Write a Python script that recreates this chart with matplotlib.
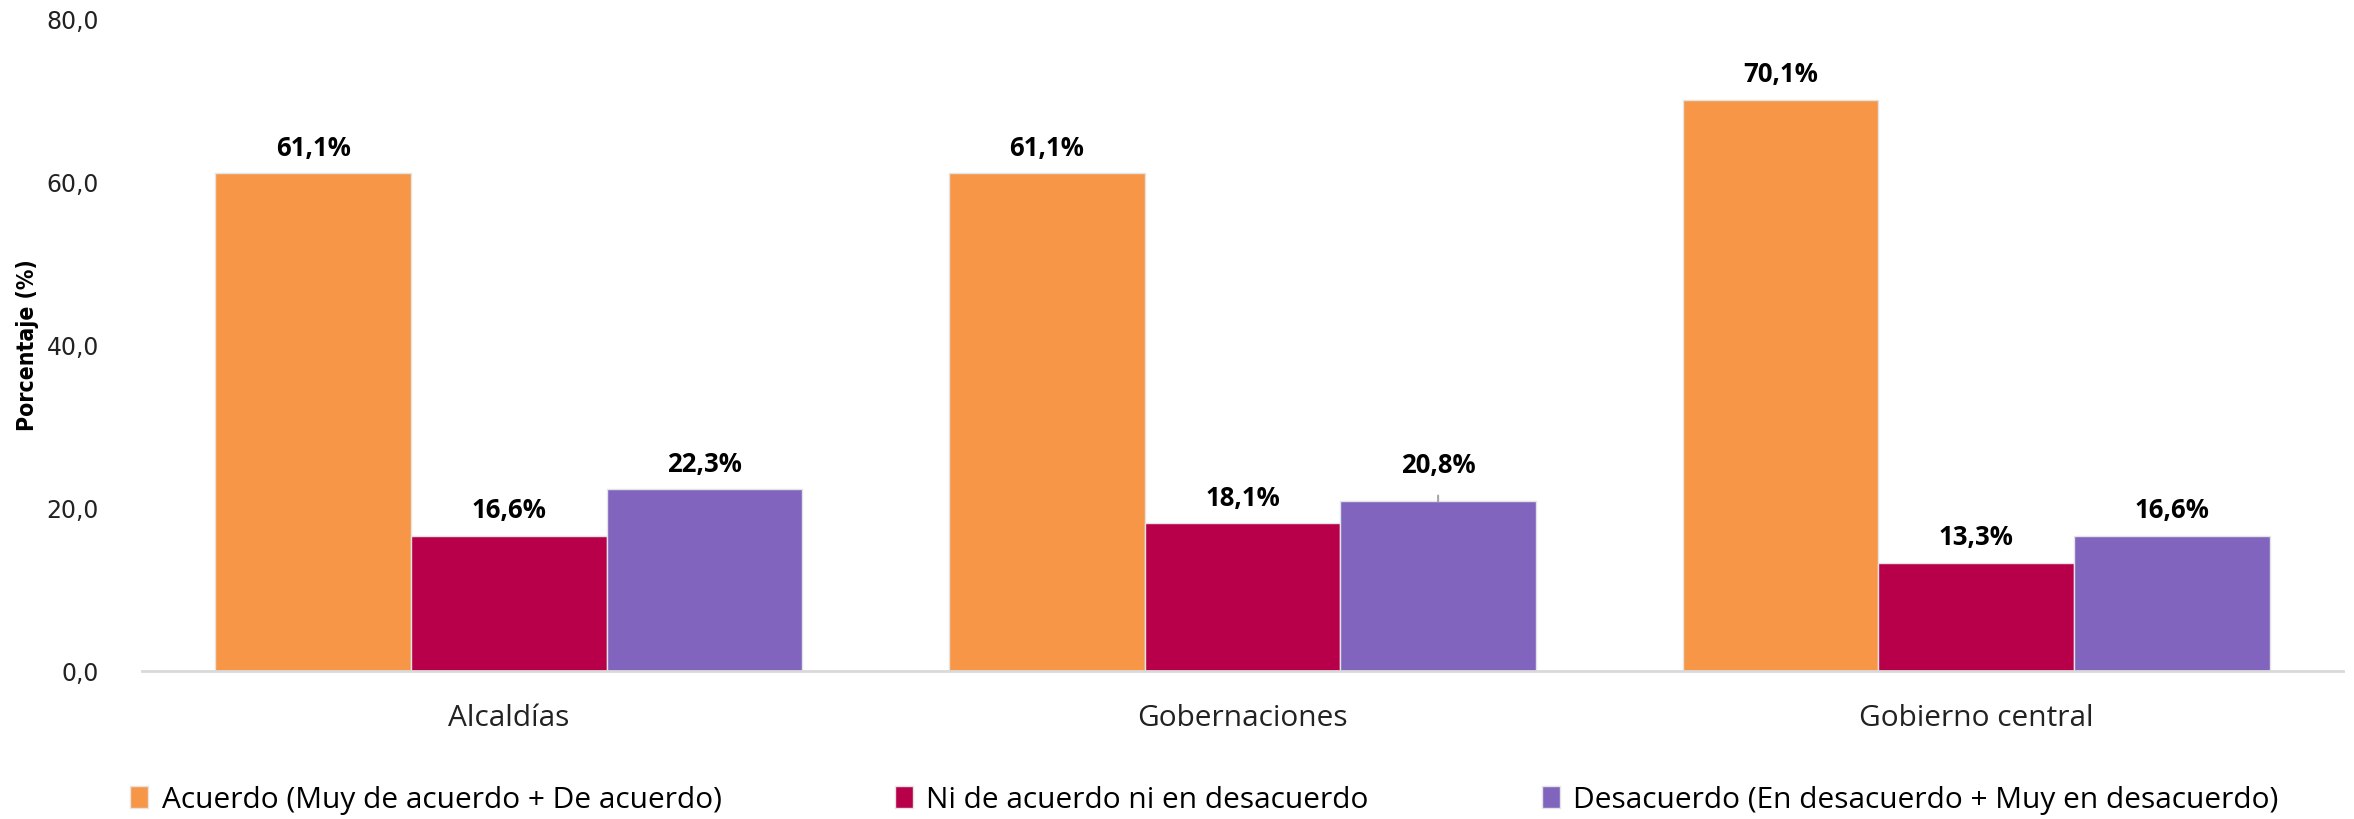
import matplotlib
matplotlib.use("Agg")
import matplotlib.pyplot as plt
import numpy as np

categories = ["Alcaldías", "Gobernaciones", "Gobierno central"]
series_names = ["Acuerdo (Muy de acuerdo + De acuerdo)",
                "Ni de acuerdo ni en desacuerdo",
                "Desacuerdo (En desacuerdo + Muy en desacuerdo)"]
acuerdo = [61.1, 61.1, 70.1]
neutral = [16.6, 18.1, 13.3]
desacuerdo = [22.3, 20.8, 16.6]
yticks = [0, 20, 40, 60, 80]

colors = ["#F79646", "#B8004A", "#8064BD"]

fig = plt.figure(figsize=(23.54, 8.19), dpi=100)
ax = fig.add_axes([0.0603, 0.1807, 0.9350, 0.7961])

x = np.arange(len(categories))
w = 0.8 / 3
series = [acuerdo, neutral, desacuerdo]
for i, (vals, name, c) in enumerate(zip(series, series_names, colors)):
    pos = x + (i - 1) * w
    ax.bar(pos, vals, width=w, color=c, edgecolor="#e4e4e4",
           linewidth=1.0, label=name, zorder=2)
    for j, (p, v) in enumerate(zip(pos, vals)):
        label = f"{v:.1f}%".replace(".", ",")
        if i == 2 and j == 1:
            ax.annotate(label, xy=(p, v), xytext=(0, 26), textcoords="offset points",
                        ha="center", va="center", fontsize=18.5, fontweight="bold",
                        family="Open Sans",
                        arrowprops=dict(arrowstyle="-", color="#a6a6a6", lw=1.5,
                                        shrinkA=10, shrinkB=0))
        else:
            ax.annotate(label, xy=(p, v), xytext=(0, 18), textcoords="offset points",
                        ha="center", va="center", fontsize=18.5, fontweight="bold",
                        family="Open Sans")

ax.set_xlim(-0.5, 2.5)
ax.set_ylim(0, 80)
ax.set_yticks(yticks)
ax.set_yticklabels([f"{t:.1f}".replace(".", ",") for t in yticks],
                   fontsize=17, family="DejaVu Sans", color="#222222")
ax.set_xticks(x)
ax.set_xticklabels(categories, fontsize=21.5, family="Open Sans", color="#222222")
ax.tick_params(axis="y", length=0, pad=31)
ax.tick_params(axis="x", length=0, pad=24)
for s in ["top", "right", "left"]:
    ax.spines[s].set_visible(False)
ax.spines["bottom"].set_color("#d9d9d9")
ax.spines["bottom"].set_linewidth(2)

ax.set_ylabel("Porcentaje (%)", fontsize=16.5, fontweight="bold",
              family=["DejaVu Sans"], fontstretch="condensed", labelpad=5)

leg = fig.legend(loc="center", bbox_to_anchor=(0.5117, 0.023), ncol=3,
                 frameon=False, prop={"family": "Open Sans", "size": 21.5},
                 handlelength=0.6, handleheight=0.75, handletextpad=0.45,
                 columnspacing=5.8)

fig.savefig("out.png", dpi=100)
